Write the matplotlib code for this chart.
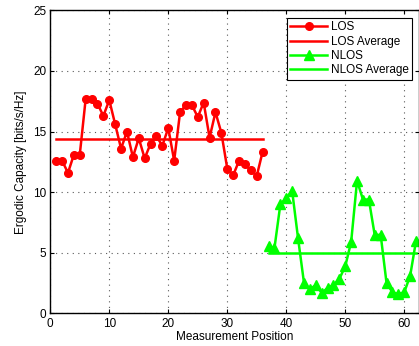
import numpy as np
import matplotlib
matplotlib.use("Agg")
import matplotlib.pyplot as plt

# measured ergodic capacity per position (bits/s/Hz)
los_pos = list(range(1, 37))
los_cap = [12.6, 12.6, 11.6, 13.1, 13.1, 17.7, 17.7, 17.3, 16.3, 17.6,
           15.6, 13.6, 15.0, 12.9, 14.45, 12.8, 14.0, 14.6, 13.85, 15.3,
           12.6, 16.6, 17.2, 17.2, 16.2, 17.4, 14.5, 16.6, 14.9, 11.95,
           11.4, 12.6, 12.3, 11.8, 11.35, 13.35]
los_avg = 14.4

nlos_pos = list(range(37, 63))
nlos_cap = [5.55, 5.4, 9.0, 9.5, 10.1, 6.2, 2.55, 2.0, 2.35, 1.7,
            2.1, 2.35, 2.85, 3.9, 5.9, 10.95, 9.4, 9.4, 6.45, 6.5,
            2.5, 1.75, 1.6, 1.75, 3.1, 6.0]
nlos_avg = 5.0

plt.rcParams["font.family"] = ["Liberation Sans", "DejaVu Sans"]
plt.rcParams["font.size"] = 8.5

fig = plt.figure(figsize=(4.19, 3.46), dpi=100)
ax = fig.add_axes([0.12, 0.094, 0.88, 0.876])

ax.plot(los_pos, los_cap, "-o", color="red", lw=1.8, ms=5.5, label="LOS")
ax.plot([los_pos[0], los_pos[-1]], [los_avg, los_avg], "-", color="red",
        lw=1.8, label="LOS Average")
ax.plot(nlos_pos, nlos_cap, "-^", color="lime", lw=1.8, ms=6.5, label="NLOS")
ax.plot([nlos_pos[0], nlos_pos[-1]], [nlos_avg, nlos_avg], "-", color="lime",
        lw=1.8, label="NLOS Average")

ax.set_xlim(0, 62.5)
ax.set_ylim(0, 25)
ax.set_xticks(np.arange(0, 61, 10))
ax.set_yticks(np.arange(0, 26, 5))
ax.tick_params(direction="in", top=True, right=True, length=3, pad=3)
ax.grid(True, linestyle=(0, (1, 4)), color="0.35", lw=0.8)
for s in ax.spines.values():
    s.set_linewidth(1.0)

ax.set_xlabel("Measurement Position", labelpad=1)
ax.set_ylabel("Ergodic Capacity [bits/s/Hz]", labelpad=4)

leg = ax.legend(loc="upper right", handlelength=3.1, fancybox=False,
                framealpha=1, edgecolor="black", borderpad=0.3,
                labelspacing=0.2, handletextpad=0.3,
                bbox_to_anchor=(0.997, 0.995))
leg.get_frame().set_linewidth(0.8)

fig.savefig("out.png", dpi=100)
